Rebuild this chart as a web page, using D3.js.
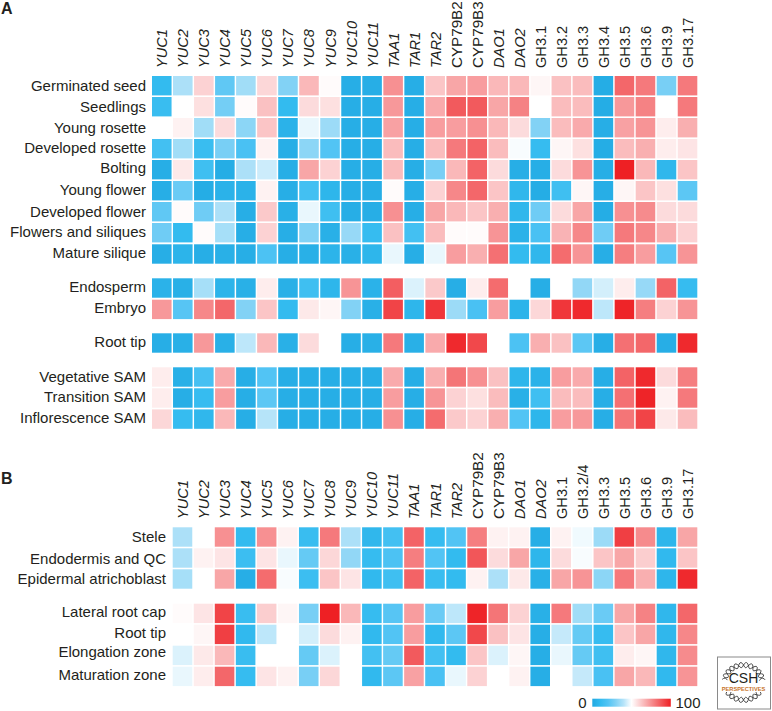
<!DOCTYPE html>
<html><head><meta charset="utf-8">
<script src="https://cdn.jsdelivr.net/npm/d3@7/dist/d3.min.js"></script>
<style>html,body{margin:0;padding:0;background:#fff}svg{display:block}text{font-family:"Liberation Sans",Arial,sans-serif;fill:#231f20}</style>
</head><body><svg id="c" width="772" height="711"></svg>
<script>
const colsA=["YUC1","YUC2","YUC3","YUC4","YUC5","YUC6","YUC7","YUC8","YUC9","YUC10","YUC11","TAA1","TAR1","TAR2","CYP79B2","CYP79B3","DAO1","DAO2","GH3.1","GH3.2","GH3.3","GH3.4","GH3.5","GH3.6","GH3.9","GH3.17"];
const colsB=["YUC1","YUC2","YUC3","YUC4","YUC5","YUC6","YUC7","YUC8","YUC9","YUC10","YUC11","TAA1","TAR1","TAR2","CYP79B2","CYP79B3","DAO1","DAO2","GH3.1","GH3.2/4","GH3.3","GH3.5","GH3.6","GH3.9","GH3.17"];
const rowsA=["Germinated seed","Seedlings","Young rosette","Developed rosette","Bolting","Young flower","Developed flower","Flowers and siliques","Mature silique","Endosperm","Embryo","Root tip","Vegetative SAM","Transition SAM","Inflorescence SAM"];
const rowsB=["Stele","Endodermis and QC","Epidermal atrichoblast","Lateral root cap","Root tip","Elongation zone","Maturation zone"];
const valuesA=[
[10,38,60,23,36,59,30,66,51,3,3,75,3,63,70,72,66,66,52,64,65,2,84,80,28,80],
[12,50,57,27,51,64,10,58,57,3,3,73,3,69,87,87,70,78,50,65,65,2,73,78,50,80],
[50,53,36,58,32,63,5,47,35,3,3,71,3,72,72,75,66,58,30,65,69,3,71,74,54,68],
[15,36,12,28,17,53,3,32,20,3,3,65,3,65,80,85,65,49,11,52,57,2,65,68,54,56],
[3,55,14,2,38,43,3,70,60,3,3,65,3,28,66,85,58,3,3,58,74,3,100,66,8,63],
[3,25,2,5,5,53,3,15,7,3,3,51,3,60,77,84,63,8,2,14,52,3,52,63,57,22],
[23,51,26,38,3,62,4,47,14,3,3,75,3,70,66,63,68,8,26,58,70,2,75,76,58,58],
[26,10,51,37,3,60,3,30,4,34,11,64,15,65,51,51,74,5,17,67,77,26,80,77,68,60],
[3,6,3,4,3,18,3,4,6,4,7,47,3,47,72,68,82,10,8,83,74,3,79,72,21,74],
[5,4,37,6,4,54,4,14,7,74,5,86,45,62,3,54,83,50,3,50,33,44,54,34,85,11],
[73,21,77,84,30,63,10,55,52,30,4,92,7,95,35,17,72,6,59,95,98,41,99,79,60,74],
[3,4,73,4,41,66,4,58,50,3,4,80,4,69,98,91,50,18,68,64,22,3,82,84,3,98],
[54,4,16,69,3,20,3,3,3,3,3,69,3,68,81,75,64,7,5,72,69,3,85,98,58,79],
[54,3,11,72,3,22,3,3,3,3,3,72,3,74,60,57,65,4,14,65,65,3,82,99,53,80],
[59,11,8,66,3,40,3,3,3,3,3,75,3,83,62,60,68,20,7,72,73,3,81,92,55,65]];
const valuesB=[
[38,50,75,10,75,53,12,80,38,8,15,85,11,20,79,53,53,3,53,48,35,93,76,7,70],
[38,53,56,13,56,47,24,59,33,11,18,79,20,10,88,58,70,7,58,49,63,70,61,9,63],
[37,50,70,3,83,49,13,63,56,9,14,85,12,10,53,38,55,4,70,74,32,80,68,7,98],
[51,56,92,12,61,52,28,100,66,11,21,72,25,41,99,81,60,4,80,36,25,70,78,8,84],
[50,52,93,9,41,50,44,58,53,9,20,72,9,22,91,64,56,3,42,24,11,63,70,8,77],
[45,55,66,12,50,50,24,45,50,15,24,87,15,10,63,45,52,3,47,24,14,54,52,8,76],
[47,54,84,11,56,53,28,59,50,9,22,71,17,47,60,50,53,3,50,42,17,70,66,9,74]];
const colourStops=[0,10,20,30,40,50,100];
const colourRange=["#22a9e2","#33bbef","#52c4f4","#82d2f5","#b6e4f9","#ffffff","#ee2024"];
const legendLabels=["0","100"];
const romanNames=/^(CYP|GH3)/;

const svg=d3.select("#c");
const colour=d3.scaleLinear().domain(colourStops).range(colourRange);

function panel(cols,rows,values,x0,xEnd,rowYs,labelBase,labelRight,labelOffsets){
  const x=d3.scaleBand().domain(cols).range([x0,xEnd]).paddingInner(0.07).paddingOuter(0);
  const y=d3.scaleOrdinal().domain(rows).range(rowYs);
  const g=svg.append("g");
  rows.forEach((r,i)=>{
    g.selectAll(null).data(values[i]).join("rect")
      .attr("x",(d,j)=>x(cols[j])).attr("y",y(r))
      .attr("width",x.bandwidth()).attr("height",19.4)
      .attr("fill",d=>colour(d));
    g.append("text").attr("x",labelRight).attr("y",y(r)+labelOffsets[i]).attr("text-anchor","end")
      .attr("font-size",15).text(r);
  });
  cols.forEach(c=>{
    g.append("text").attr("transform",`translate(${x(c)+x.bandwidth()/2+5.5},${labelBase}) rotate(-90)`)
      .attr("font-size",c.startsWith("CYP")?15.2:14.6).attr("font-style",romanNames.test(c)?"normal":"italic").text(c);
  });
}
panel(colsA,rowsA,valuesA,152,697.3,[76,97,118,139,160,181,202,223,244.3,278.3,299.7,333.3,367.3,388.3,409.4],68,146,
  [15,14.7,15,14,13,14,14.7,13.7,14,13.4,13.6,13.4,14.4,14,14]);
panel(colsB,rowsB,valuesB,172.7,697.3,[527.3,548.3,569.3,603.7,624.7,645.7,666.7],519,166,
  [15,15.7,14.7,13,13,11,13]);

svg.append("text").attr("x",1).attr("y",14).attr("font-size",16).attr("font-weight","bold").text("A");
svg.append("text").attr("x",1).attr("y",484).attr("font-size",16).attr("font-weight","bold").text("B");

// legend
const defs=svg.append("defs");
const grad=defs.append("linearGradient").attr("id","lg");
colourStops.forEach((s,i)=>grad.append("stop").attr("offset",s+"%").attr("stop-color",colourRange[i]));
svg.append("rect").attr("x",592.3).attr("y",698.7).attr("width",78.5).attr("height",8).attr("fill","url(#lg)");
svg.append("text").attr("x",586.5).attr("y",707.5).attr("text-anchor","end").attr("font-size",15).text(legendLabels[0]);
svg.append("text").attr("x",675.5).attr("y",707.5).attr("font-size",15).text(legendLabels[1]);

// logo
const logo=svg.append("g").attr("transform","translate(717,656.5)");
logo.append("rect").attr("x",.5).attr("y",.5).attr("width",53).attr("height",52).attr("fill","#fff").attr("stroke","#8a8a8a");
const helix=(a0,a1,phase)=>{const pts=d3.range(a0,a1,.05).map(t=>{const r=17.5+2.6*Math.sin(t*12+phase);return [26.5+r*1.08*Math.cos(t),26+r*Math.sin(t)]});return d3.line()(pts)};
[[3.3,6.15],[0.2,3]].forEach(([a,b])=>{[0,Math.PI].forEach(p=>logo.append("path").attr("d",helix(a,b,p)).attr("fill","none").attr("stroke","#333").attr("stroke-width",.9));});
logo.append("rect").attr("x",3).attr("y",28).attr("width",47).attr("height",7.5).attr("fill","#fff");
logo.append("text").attr("x",26.5).attr("y",26).attr("text-anchor","middle").attr("font-size",14).text("CSH");
logo.append("text").attr("x",26.5).attr("y",34.2).attr("text-anchor","middle").attr("font-size",5.7).attr("font-weight","bold").style("fill","#c8742a").text("PERSPECTIVES");
</script></body></html>
